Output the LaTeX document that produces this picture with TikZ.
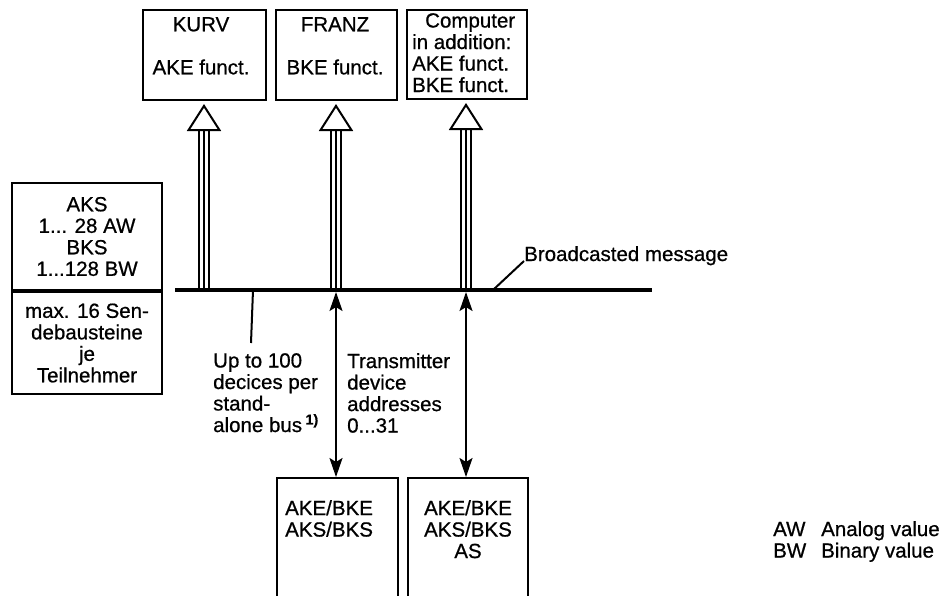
\documentclass[tikz,border=0pt]{standalone}
\usepackage{fontspec}
\setmainfont[FakeBold=0.7]{Liberation Sans}
\usetikzlibrary{arrows.meta,positioning}

\tikzset{
  boite/.style={draw, line width=2pt, inner sep=0pt},
  texte/.style={inner sep=0pt, align=#1, font=\fontsize{20.5}{21.5}\selectfont},
  texte/.default=center,
  fleche/.style={line width=2.2pt, {Stealth[length=19pt,width=13pt,inset=4pt]}-{Stealth[length=19pt,width=13pt,inset=4pt]}},
}
% fleche creuse du bus vers une boite
\newcommand{\creuse}[2]{%
  \draw[line width=2pt, double distance=8.5pt] (#1) -- ([yshift=-30pt]#2.south -| #1);
  \draw[line width=2pt, -{Triangle[open,length=27pt,width=34pt]}] (#1) -- ([yshift=-3pt]#2.south -| #1);}

\begin{document}
\begin{tikzpicture}[x=1pt,y=-1pt]
  \useasboundingbox (0,0) rectangle (952,595);
  \clip (0,0) rectangle (952,595);

  \node[boite, minimum width=123pt, minimum height=90pt] (kurv) at (204.5,55) {};
  \node[boite, minimum width=121pt, minimum height=90pt] (franz) at (336.5,55) {};
  \node[boite, minimum width=120pt, minimum height=89pt] (rechner) at (467,54.5) {};
  \node[texte, anchor=north] (kurvT) at (201,17) {KURV\\[21.5pt]AKE funct.};
  \node[texte, anchor=north] (franzT) at (335,17) {FRANZ\\[21.5pt]BKE funct.};
  \node[texte=left, anchor=north west] (rechnerT) at (412,13) {\hspace*{13pt}Computer\\in addition:\\AKE funct.\\BKE funct.};

  \node[boite, texte, minimum width=150pt, minimum height=107pt] (aks) at (87,236.5) {AKS\\1... 28 AW\\BKS\\1...128 BW};
  \node[boite, texte, minimum width=150pt, minimum height=102pt, below=0pt of aks] (sende) {max. 16 Sen-\\debausteine\\je\\Teilnehmer};

  \coordinate (busG) at (175,290);
  \coordinate (busD) at (652,290);
  \coordinate (h1) at (204,290);
  \coordinate (h2) at (336,290);
  \coordinate (h3) at (466,290);
  \coordinate (a2) at (336,292);
  \coordinate (a3) at (466,292);

  \creuse{h1}{kurv}
  \creuse{h2}{franz}
  \creuse{h3}{rechner}
  \draw[line width=4pt] (busG) -- (busD);

  \node[boite, minimum width=121pt, minimum height=140pt, anchor=north] (bas1) at (337.5,477) {};
  \node[boite, minimum width=120pt, minimum height=140pt, anchor=north] (bas2) at (468,477) {};
  \node[texte=left, anchor=north west] (bas1T) at (285,500) {AKE/BKE\\AKS/BKS};
  \node[texte, anchor=north] (bas2T) at (468,500) {AKE/BKE\\AKS/BKS\\AS};
  \draw[fleche] (bas1.north -| a2) -- (a2);
  \draw[fleche] (bas2.north -| a3) -- (a3);

  \coordinate (trait) at (253,290);
  \coordinate (traitFin) at (251,343);
  \draw[line width=2pt] (trait) -- (traitFin);
  \node[texte=left, anchor=north west] (bus100) at (213,353) {Up to 100\\decices per\\stand-\\alone bus\,\textsuperscript{\bfseries 1)}};
  \node[texte=left, anchor=north west] (adr) at (347,353) {Transmitter\\device\\addresses\\0...31};

  \node[texte, anchor=base west] (msg) at (524,261) {Broadcasted message};
  \coordinate (diff) at (493,290);
  \draw[line width=2pt] (diff) -- (msg.base west);

  \node[texte=left, anchor=north west] (leg) at (773,521) {\makebox[48pt][l]{AW}Analog value\\\makebox[48pt][l]{BW}Binary value};
\end{tikzpicture}
\end{document}
